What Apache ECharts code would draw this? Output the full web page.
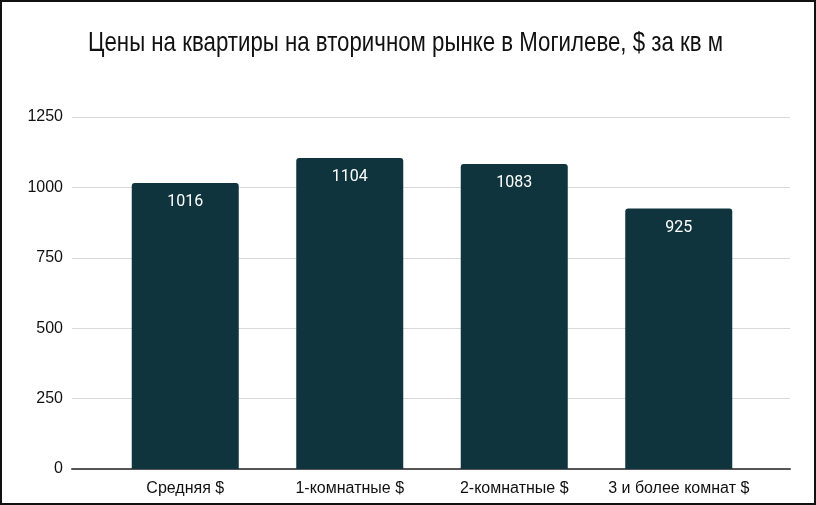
<!DOCTYPE html>
<html>
<head>
<meta charset="utf-8">
<script src="https://cdn.jsdelivr.net/npm/echarts@6/dist/echarts.min.js"></script>
<style>
  html, body { margin: 0; padding: 0; background: #fff; }
  #chart { width: 816px; height: 505px; box-sizing: border-box; border: 2px solid #111; }
</style>
</head>
<body>
<div id="chart"></div>
<script>
// данные
var titleText = 'Цены на квартиры на вторичном рынке в Могилеве, $ за кв м';
var categories = ['Средняя $', '1-комнатные $', '2-комнатные $', '3 и более комнат $'];
var prices = [1016, 1104, 1083, 925];
var yTicks = [0, 250, 500, 750, 1000, 1250];

var chart = echarts.init(document.getElementById('chart'));
chart.setOption({
  animation: false,
  // заголовок узким шрифтом — сжимаем обычный по горизонтали
  graphic: [{
    type: 'text', x: 86, y: 27, scaleX: 0.795,
    style: { text: titleText, fill: '#111', font: '28px "Liberation Sans", Arial, sans-serif', textVerticalAlign: 'top' }
  }],
  grid: [
    // сетка и подписи оси Y
    { left: 70, right: 24, top: 115, bottom: 34 },
    // столбцы
    { left: 101, right: 53, top: 115, bottom: 34 }
  ],
  xAxis: [
    {
      gridIndex: 0, type: 'category', data: categories,
      axisLine: { lineStyle: { color: '#555', width: 2 } },
      axisTick: { show: false }, axisLabel: { show: false }
    },
    {
      gridIndex: 1, type: 'category', data: categories,
      axisLine: { show: false }, axisTick: { show: false },
      axisLabel: { interval: 0, color: '#111', fontSize: 16, fontFamily: 'Liberation Sans, Arial, sans-serif', margin: 12 }
    }
  ],
  yAxis: [
    {
      gridIndex: 0, type: 'value', min: yTicks[0], max: yTicks[yTicks.length - 1], interval: 250,
      axisLine: { show: false }, axisTick: { show: false },
      axisLabel: { color: '#111', fontSize: 16, fontFamily: 'Liberation Sans, Arial, sans-serif', margin: 9,
        formatter: function (v) { return String(v); } },
      splitLine: { lineStyle: { color: '#d9d9d9', width: 1 } }
    },
    {
      gridIndex: 1, type: 'value', min: yTicks[0], max: yTicks[yTicks.length - 1], interval: 250,
      show: false, splitLine: { show: false }
    }
  ],
  series: [{
    type: 'bar',
    xAxisIndex: 1, yAxisIndex: 1,
    data: prices,
    barWidth: 107,
    itemStyle: { color: '#0f343d', borderRadius: [3, 3, 0, 0] },
    label: {
      show: true, position: 'insideTop', distance: 11,
      color: '#fff', fontSize: 16, fontFamily: 'Roboto, sans-serif'
    }
  }]
});
</script>
</body>
</html>
